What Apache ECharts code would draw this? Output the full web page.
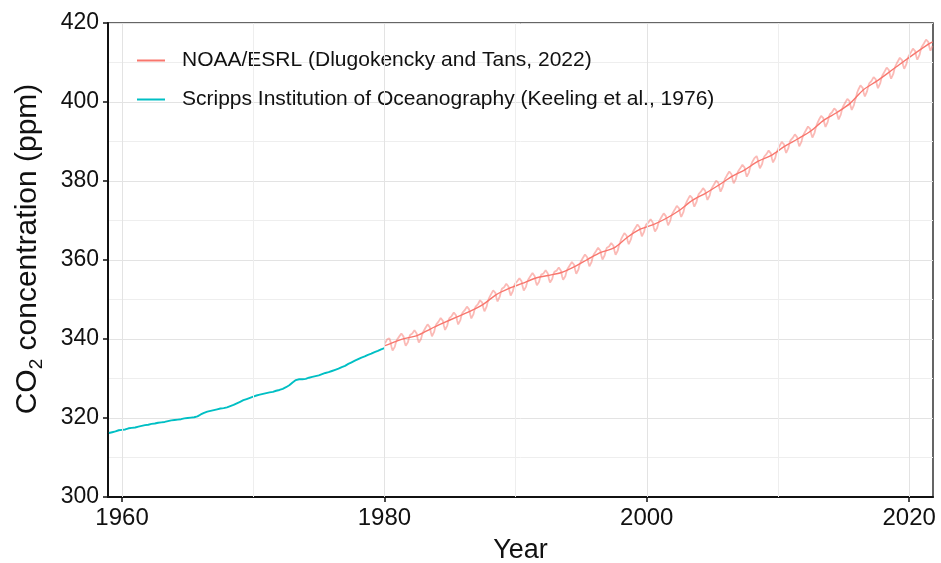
<!DOCTYPE html>
<html>
<head>
<meta charset="utf-8">
<script src="https://cdn.jsdelivr.net/npm/echarts@6/dist/echarts.min.js"></script>
<style>
html,body{margin:0;padding:0;background:#fff;}
#chart{width:941px;height:563px;}
</style>
</head>
<body>
<div id="chart"></div>
<script>
// ---------------- DATA ----------------
const yTicks = [300, 320, 340, 360, 380, 400, 420];
const xTickYears = [1960, 1980, 2000, 2020];
const xMinorYears = [1970, 1990, 2010];

const noaaName = 'NOAA/ESRL (Dlugokencky and Tans, 2022)';
const scrippsName = 'Scripps Institution of Oceanography (Keeling et al., 1976)';

// NOAA/ESRL global monthly means, Jan 1980 .. Oct 2021 (ppm)
const noaaStartYear = 1980;
const noaaMonthly = [
338.9,339.4,339.9,340.2,340.2,339.4,338.0,337.1,337.0,338.0,339.1,339.8,
340.1,340.6,341.1,341.4,341.4,340.6,339.2,338.3,338.2,339.2,340.3,341.0,
340.9,341.4,341.9,342.2,342.2,341.4,340.0,339.1,339.0,340.0,341.1,341.8,
342.3,342.8,343.3,343.7,343.8,343.0,341.7,340.7,340.8,341.8,343.0,343.7,
343.9,344.4,344.9,345.3,345.4,344.6,343.3,342.3,342.4,343.4,344.6,345.3,
345.3,345.8,346.3,346.7,346.8,346.0,344.7,343.7,343.8,344.8,346.0,346.7,
346.8,347.3,347.8,348.2,348.3,347.5,346.2,345.2,345.3,346.3,347.5,348.2,
348.2,348.8,349.3,349.8,349.9,349.2,347.9,347.0,347.1,348.2,349.4,350.2,
350.7,351.3,351.8,352.3,352.4,351.7,350.4,349.5,349.6,350.7,351.9,352.7,
352.6,353.1,353.6,354.0,354.1,353.3,352.0,351.0,351.1,352.1,353.3,354.0,
354.1,354.6,355.1,355.4,355.4,354.6,353.2,352.3,352.2,353.2,354.3,355.0,
355.4,355.9,356.4,356.7,356.7,355.9,354.5,353.6,353.5,354.5,355.6,356.3,
356.1,356.6,357.1,357.4,357.4,356.6,355.2,354.3,354.2,355.2,356.3,357.0,
356.8,357.3,357.8,358.1,358.1,357.3,355.9,355.0,354.9,355.9,357.0,357.7,
358.1,358.6,359.1,359.5,359.6,358.8,357.5,356.5,356.6,357.6,358.8,359.5,
360.0,360.5,361.0,361.4,361.5,360.7,359.4,358.4,358.5,359.5,360.7,361.4,
361.7,362.2,362.7,363.1,363.2,362.4,361.1,360.1,360.2,361.2,362.4,363.1,
362.9,363.4,363.9,364.3,364.4,363.6,362.3,361.3,361.4,362.4,363.6,364.3,
365.2,365.8,366.3,366.8,366.9,366.2,364.9,364.0,364.1,365.2,366.4,367.2,
367.6,368.1,368.6,369.0,369.1,368.3,367.0,366.0,366.1,367.1,368.3,369.0,
369.0,369.5,370.0,370.3,370.3,369.5,368.1,367.2,367.1,368.1,369.2,369.9,
370.4,370.9,371.4,371.8,371.9,371.1,369.8,368.8,368.9,369.9,371.1,371.8,
372.1,372.7,373.2,373.7,373.8,373.1,371.8,370.9,371.0,372.1,373.3,374.1,
374.7,375.3,375.8,376.3,376.4,375.7,374.4,373.5,373.6,374.7,375.9,376.7,
376.8,377.3,377.8,378.2,378.3,377.5,376.2,375.2,375.3,376.3,377.5,378.2,
378.5,379.1,379.6,380.1,380.2,379.5,378.2,377.3,377.4,378.5,379.7,380.5,
381.0,381.5,382.0,382.4,382.5,381.7,380.4,379.4,379.5,380.5,381.7,382.4,
382.7,383.2,383.7,384.1,384.2,383.4,382.1,381.1,381.2,382.2,383.4,384.1,
384.8,385.3,385.8,386.2,386.3,385.5,384.2,383.2,383.3,384.3,385.5,386.2,
386.3,386.8,387.3,387.7,387.8,387.0,385.7,384.7,384.8,385.8,387.0,387.7,
388.3,388.9,389.4,389.9,390.0,389.3,388.0,387.1,387.2,388.3,389.5,390.3,
390.4,390.9,391.4,391.8,391.9,391.1,389.8,388.8,388.9,389.9,391.1,391.8,
392.2,392.8,393.3,393.8,393.9,393.2,391.9,391.0,391.1,392.2,393.4,394.2,
394.9,395.5,396.0,396.5,396.6,395.9,394.6,393.7,393.8,394.9,396.1,396.9,
396.8,397.4,397.9,398.4,398.5,397.8,396.5,395.6,395.7,396.8,398.0,398.8,
399.2,399.8,400.3,400.8,400.9,400.2,398.9,398.0,398.1,399.2,400.4,401.2,
402.4,403.1,403.6,404.2,404.3,403.6,402.3,401.4,401.6,402.7,403.9,404.7,
404.7,405.3,405.8,406.3,406.4,405.7,404.4,403.5,403.6,404.7,405.9,406.7,
407.1,407.7,408.2,408.7,408.8,408.1,406.8,405.9,406.0,407.1,408.3,409.1,
409.6,410.2,410.7,411.2,411.3,410.6,409.3,408.4,408.5,409.6,410.8,411.6,
411.9,412.5,413.0,413.5,413.6,412.9,411.6,410.7,410.8,411.9,413.1,413.9,
414.2,414.8,415.3,415.8,415.9,415.2,413.9,413.0,413.1,414.2
];

// NOAA/ESRL deseasonalised trend (ppm)
const noaaTrendYears = [1980.04,1980.5,1981.5,1982.5,1983.5,1984.5,1985.5,1986.5,1987.5,1988.5,1989.5,
  1990.5,1991.5,1992.5,1993.5,1994.5,1995.5,1996.5,1997.5,1998.5,1999.5,
  2000.5,2001.5,2002.5,2003.5,2004.5,2005.5,2006.5,2007.5,2008.5,2009.5,
  2010.5,2011.5,2012.5,2013.5,2014.5,2015.5,2016.5,2017.5,2018.5,2019.5,
  2020.5,2021.5,2021.79];
const noaaTrend = [338.3,338.91,340.11,340.86,342.53,344.07,345.54,346.97,348.68,351.16,352.79,
  354.06,355.39,356.09,356.83,358.33,360.17,361.93,363.05,365.70,367.79,
  368.96,370.57,372.59,375.15,376.95,378.98,381.15,382.90,385.02,386.50,
  388.76,390.63,392.65,395.40,397.34,399.65,403.06,405.22,407.61,410.07,
  412.44,414.71,415.25];

// Scripps quarterly values, 1959.00 .. 1980.00 (ppm)
const scrippsStartYear = 1959;
const scrippsQuarterly = [
316.2,316.4,316.6,316.9,
317.0,317.1,317.4,317.5,
317.6,317.8,318.0,318.2,
318.3,318.5,318.6,318.8,
318.9,319.0,319.2,319.4,
319.5,319.6,319.7,319.9,
320.0,320.1,320.2,320.4,
320.9,321.3,321.6,321.8,
322.0,322.2,322.4,322.5,
322.7,323.0,323.3,323.7,
324.1,324.5,324.8,325.1,
325.4,325.7,325.9,326.1,
326.3,326.5,326.6,326.9,
327.1,327.4,327.8,328.3,
329.0,329.6,329.8,329.8,
329.9,330.2,330.4,330.6,
330.8,331.1,331.4,331.6,
331.9,332.2,332.5,332.9,
333.2,333.7,334.1,334.5,
334.9,335.3,335.6,336.0,
336.3,336.7,337.0,337.4,
337.7
];

// ---------------- BUILD ----------------
const noaaMonthlyPts = noaaMonthly.map((v, i) => [noaaStartYear + (i + 0.5) / 12, v]);
const noaaTrendPts = noaaTrend.map((v, i) => [noaaTrendYears[i], v]);
const scrippsPts = scrippsQuarterly.map((v, i) => [scrippsStartYear + i * 0.25, v]);

const RED = '#F8766D';
const TEAL = '#00BFC4';
const FONT = "'Liberation Sans', Arial, Helvetica, sans-serif";
const INK = '#111111';

const chart = echarts.init(document.getElementById('chart'), null, {renderer: 'canvas'});
chart.setOption({
  animation: false,
  backgroundColor: '#ffffff',
  textStyle: {fontFamily: FONT, color: INK},
  grid: {left: 108, right: 8, top: 23, bottom: 66, containLabel: false, outerBoundsMode: 'none',
    show: true, borderColor: '#333', borderWidth: 1.5, backgroundColor: 'transparent'},
  legend: {
    data: [
      {name: noaaName, icon: 'rect'},
      {name: scrippsName, icon: 'rect'}
    ],
    orient: 'vertical',
    left: 132,
    top: 45,
    itemWidth: 28,
    itemHeight: 2,
    itemGap: 18,
    textStyle: {fontSize: 21, color: INK, fontFamily: FONT, padding: [0, 0, 0, 12]}
  },
  xAxis: {
    type: 'value',
    min: 1958.93,
    max: 2021.82,
    name: 'Year',
    nameLocation: 'middle',
    nameGap: 40,
    nameTextStyle: {fontSize: 27, color: INK},
    axisLine: {show: true, onZero: false, lineStyle: {color: '#111', width: 2}},
    axisTick: {show: true, length: 5, customValues: xTickYears, lineStyle: {color: '#111', width: 1.5}},
    axisLabel: {fontSize: 24, color: INK, margin: 9, customValues: xTickYears,
      formatter: v => String(v)},
    splitLine: {show: false}
  },
  yAxis: {
    type: 'value',
    min: 300,
    max: 420,
    interval: 20,
    name: '{a|CO}{s|2}{a| concentration (ppm)}',
    nameLocation: 'middle',
    nameGap: 62,
    nameRotate: 90,
    nameTextStyle: {
      padding: [0, 0, 0, 22],
      rich: {
        a: {fontSize: 30, color: INK, fontFamily: FONT, lineHeight: 36},
        s: {fontSize: 19, color: INK, fontFamily: FONT, lineHeight: 36, verticalAlign: 'bottom', padding: [12, 0, 0, 0]}
      }
    },
    axisLine: {show: true, lineStyle: {color: '#111', width: 2}},
    axisTick: {show: true, length: 5, lineStyle: {color: '#111', width: 1.5}},
    axisLabel: {fontSize: 23, color: INK, margin: 9,
      formatter: v => (yTicks.indexOf(v) >= 0 ? String(v) : '')},
    splitLine: {show: true, lineStyle: {color: '#e3e3e3', width: 1}},
    minorTick: {show: false, splitNumber: 2},
    minorSplitLine: {show: true, lineStyle: {color: '#eeeeee', width: 1}}
  },
  series: [
    {
      name: 'xgrid',
      type: 'line',
      data: [],
      silent: true,
      z: 1,
      markLine: {
        silent: true,
        symbol: ['none', 'none'],
        label: {show: false},
        data: xTickYears.map(y => ({xAxis: y, lineStyle: {color: '#e3e3e3', width: 1, type: 'solid'}}))
          .concat(xMinorYears.map(y => ({xAxis: y, lineStyle: {color: '#eeeeee', width: 1, type: 'solid'}})))
      }
    },
    {
      name: 'NOAA monthly',
      type: 'line',
      data: noaaMonthlyPts,
      showSymbol: false,
      z: 3,
      lineStyle: {color: 'rgba(248,118,109,0.5)', width: 1.8},
      itemStyle: {color: RED}
    },
    {
      name: noaaName,
      type: 'line',
      data: noaaTrendPts,
      showSymbol: false,
      smooth: 0.3,
      z: 4,
      lineStyle: {color: RED, width: 1.4},
      itemStyle: {color: RED}
    },
    {
      name: scrippsName,
      type: 'line',
      data: scrippsPts,
      showSymbol: false,
      z: 4,
      lineStyle: {color: TEAL, width: 1.9},
      itemStyle: {color: TEAL}
    }
  ]
});
</script>
</body>
</html>
